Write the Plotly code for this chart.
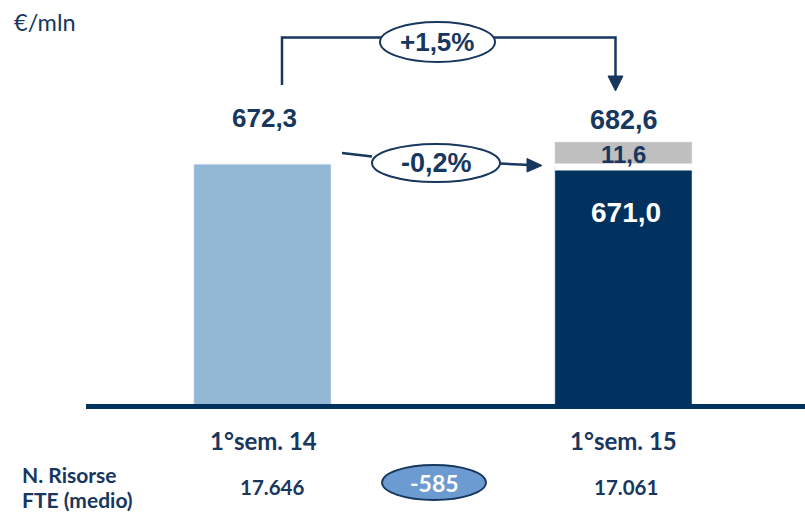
import plotly.graph_objects as go

# --- data -------------------------------------------------------------
periods = ["1°sem. 14", "1°sem. 15"]
cost_prev = 672.3          # €/mln, 1° semestre 2014
cost_base = 671.0          # €/mln, 1° semestre 2015 (componente ricorrente)
cost_extra = 11.6          # €/mln, componente aggiuntiva 2015
cost_total = 682.6         # €/mln, totale 2015
change_total = "+1,5%"
change_base = "-0,2%"
fte = ["17.646", "17.061"]
fte_delta = "-585"

# --- style ------------------------------------------------------------
W, H = 805, 514
NAVY = "#17375e"
DARK = "#00315f"
LIGHT = "#93b8d6"
GREY = "#bfbfbf"
ELLIPSE = "#6b9bd0"
NUM_FONT = "Liberation Sans"
LBL_FONT = "Lato"

BAR_W = 0.38
Y_FLOOR, Y_TOP = 561.0, 748.5      # truncated value axis
X_RANGE = [-0.727, 1.503]
PLOT_BOTTOM_PX = 404


def px(x):
    return x / W


def py(y):
    return 1 - y / H


def it(v):
    return f"{v:.1f}".replace(".", ",")


fig = go.Figure()
fig.add_trace(go.Bar(x=[periods[0]], y=[cost_prev], marker_color=LIGHT,
                     width=BAR_W, hoverinfo="skip"))
fig.add_trace(go.Bar(x=[periods[1]], y=[cost_base], marker_color=DARK,
                     width=BAR_W, hoverinfo="skip"))
fig.add_trace(go.Bar(x=[periods[1]], y=[cost_extra], base=[cost_base],
                     marker_color=GREY, width=BAR_W, hoverinfo="skip"))

shapes = []
# white gap between the two stacked parts of the 2015 bar
shapes.append(dict(type="line", xref="x", yref="y",
                   x0=1 - BAR_W / 2, x1=1 + BAR_W / 2, y0=cost_base, y1=cost_base,
                   line=dict(color="white", width=7)))
# base line
shapes.append(dict(type="line", xref="paper", yref="paper",
                   x0=px(86), x1=1, y0=py(406.5), y1=py(406.5),
                   line=dict(color=DARK, width=5)))


def path(points, close=False):
    s = "M " + " L ".join(f"{px(a):.5f},{py(b):.5f}" for a, b in points)
    return s + (" Z" if close else "")


# bracket 2014 -> 2015 total
shapes.append(dict(type="path", xref="paper", yref="paper",
                   path=path([(282, 85), (282, 37.5), (615.5, 37.5), (615.5, 77)]),
                   line=dict(color=NAVY, width=2.5)))
shapes.append(dict(type="path", xref="paper", yref="paper",
                   path=path([(608, 76), (623, 76), (615.5, 91)], close=True),
                   fillcolor=NAVY, line=dict(color=NAVY, width=1)))
# arrow 2014 -> 2015 recurring
shapes.append(dict(type="path", xref="paper", yref="paper",
                   path=path([(342, 153), (372, 156.5)]),
                   line=dict(color=NAVY, width=2.5)))
shapes.append(dict(type="path", xref="paper", yref="paper",
                   path=path([(500, 163.5), (530, 165)]),
                   line=dict(color=NAVY, width=2.5)))
shapes.append(dict(type="path", xref="paper", yref="paper",
                   path=path([(527, 158.5), (542, 165.5), (527, 172)], close=True),
                   fillcolor=NAVY, line=dict(color=NAVY, width=1)))


def ellipse(x0, y0, x1, y1, fill, lw):
    return dict(type="circle", xref="paper", yref="paper",
                x0=px(x0), x1=px(x1), y0=py(y1), y1=py(y0),
                fillcolor=fill, line=dict(color=NAVY, width=lw))


shapes.append(ellipse(380, 22, 495, 62, "white", 2))
shapes.append(ellipse(372, 144, 500, 182, "white", 2))
shapes.append(ellipse(382, 465, 486, 500, ELLIPSE, 1.8))

ann = []


def text(x, y, s, size, color=NAVY, family=NUM_FONT, bold=True, xanchor="center"):
    ann.append(dict(x=px(x), y=py(y), xref="paper", yref="paper", text=s,
                    showarrow=False, xanchor=xanchor, yanchor="middle",
                    font=dict(family=family, size=size, color=color,
                              weight="bold" if bold else "normal")))


text(12, 22, "€/mln", 23.5, family=LBL_FONT, bold=False, xanchor="left")
text(437, 42, change_total, 26)
text(436, 163, change_base, 27)
text(264, 118, it(cost_prev), 26)
text(624, 120, it(cost_total), 27)
text(623, 154, it(cost_extra), 24)
text(626, 212, it(cost_base), 28, color="white")

text(263, 440, periods[0], 24, family=LBL_FONT)
text(623, 440, periods[1], 24, family=LBL_FONT)
text(20, 474, "N. Risorse", 21, family=LBL_FONT, xanchor="left")
text(20, 499, "FTE (medio)", 21, family=LBL_FONT, xanchor="left")
text(272, 487, fte[0], 20.5, family=LBL_FONT)
text(626, 487, fte[1], 20.5, family=LBL_FONT)
text(434, 483, fte_delta, 23, color="white", family=LBL_FONT)

fig.update_layout(
    width=W, height=H,
    margin=dict(l=0, r=0, t=0, b=0),
    paper_bgcolor="white", plot_bgcolor="white",
    barmode="overlay", showlegend=False,
    xaxis=dict(visible=False, range=X_RANGE, type="category"),
    yaxis=dict(visible=False, range=[Y_FLOOR, Y_TOP],
               domain=[(H - PLOT_BOTTOM_PX) / H, 1]),
    shapes=shapes, annotations=ann,
)

fig.write_html("out.html")
